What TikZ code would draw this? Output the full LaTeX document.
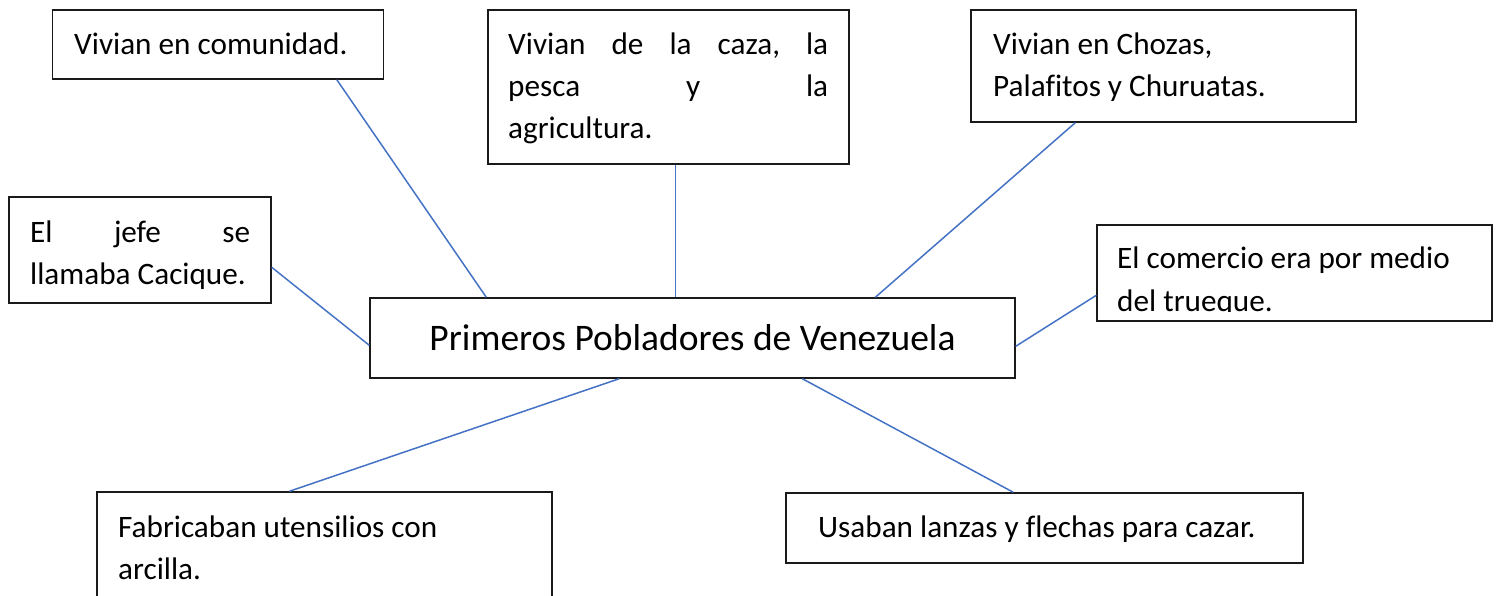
\documentclass[tikz,border=0pt]{standalone}
\usepackage{fontspec}
\setmainfont[Ligatures=NoCommon]{Carlito}
\usetikzlibrary{calc}
\definecolor{linkblue}{HTML}{4472C4}
\definecolor{boxline}{HTML}{1A1A1A}
\tikzset{
  box/.style={draw=boxline, line width=1.4pt, inner sep=0pt, fill=white},
  txt/.style={anchor=base west, inner sep=0pt, font=\fontsize{31.2}{42}\selectfont},
  title/.style={anchor=base, inner sep=0pt, font=\fontsize{37.5}{44}\selectfont},
  link/.style={draw=linkblue, line width=1.5pt}
}
\begin{document}
\begin{tikzpicture}[x=1pt,y=-1pt]
\useasboundingbox (0,0) rectangle (1499,596);
\clip (0,0) rectangle (1499,596);
\path (218,44.5) node[box, minimum width=331, minimum height=69] (b1) {};
\path (668.5,87) node[box, minimum width=361, minimum height=154] (b2) {};
\path (1163.5,66) node[box, minimum width=385, minimum height=112] (b3) {};
\path (140,250) node[box, minimum width=262, minimum height=106] (b4) {};
\path (1294.5,273) node[box, minimum width=395, minimum height=96] (b5) {};
\path (692.5,338) node[box, minimum width=645, minimum height=80] (c) {};
\path (324.5,556) node[box, minimum width=455, minimum height=128] (b7) {};
\path (1044.5,528) node[box, minimum width=517, minimum height=70] (b8) {};

\draw[link] ($(b1.south west)+(285,0)$) -- ($(c.north west)+(117,0)$);
\draw[link] ($(b2.south west)+(188,0)$) -- ($(c.north west)+(306,0)$);
\draw[link] ($(b3.south west)+(105,0)$) -- ($(c.north west)+(506,0)$);
\draw[link] ($(b4.north east)+(0,71)$) -- ($(c.north west)+(0,48)$);
\draw[link] ($(b5.north west)+(0,71)$) -- ($(c.north east)+(0,49)$);
\draw[link] ($(c.south west)+(250,0)$) -- ($(b7.north west)+(193,0)$);
\draw[link] ($(c.south west)+(433,0)$) -- ($(b8.north west)+(228,0)$);

\node[txt] (t1) at (74,55) {Vivian en comunidad.};
\node[txt] (t2a) at (508,55) {\makebox[320pt][l]{Vivian\hfill de\hfill la\hfill caza,\hfill la}};
\node[txt] (t2b) at (508,97) {\makebox[320pt][l]{pesca\hfill y\hfill la}};
\node[txt] (t2c) at (508,139) {agricultura.};
\node[txt] (t3a) at (993,55) {Vivian en Chozas,};
\node[txt] (t3b) at (993,97) {Palafitos y Churuatas.};
\node[txt] (t4a) at (30,242) {\makebox[220pt][l]{El\hfill jefe\hfill se}};
\node[txt] (t4b) at (30,284) {llamaba Cacique.};
\begin{scope}
\clip (1098,226) rectangle (1491,311);
\node[txt] (t5a) at (1117,269) {El comercio era por medio};
\node[txt] (t5b) at (1117,311) {del trueque.};
\end{scope}
\node[title] (tc) at (692.5,350) {Primeros Pobladores de Venezuela};
\node[txt] (t7a) at (118,537) {Fabricaban utensilios con};
\node[txt] (t7b) at (118,579) {arcilla.};
\node[txt] (t8) at (818,537) {Usaban lanzas y flechas para cazar.};
\end{tikzpicture}
\end{document}
